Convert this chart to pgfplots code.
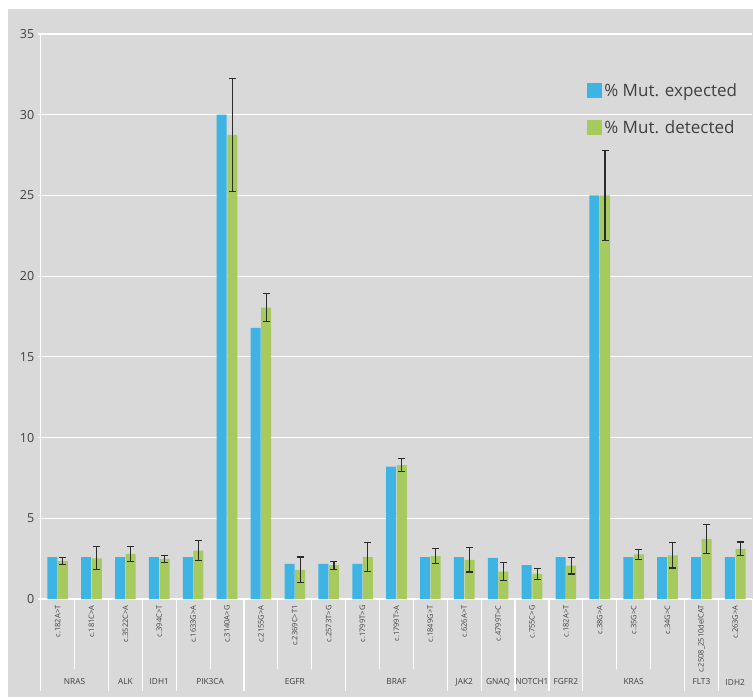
\documentclass[border=0pt]{standalone}
\usepackage{fontspec}
\setmainfont{Open Sans}
\usepackage{pgfplots}
\pgfplotsset{compat=1.18}
\usepackage{pgfplotstable}
\definecolor{bgc}{HTML}{D9D9D9}
\definecolor{cblue}{HTML}{3EB4E4}
\definecolor{cgreen}{HTML}{A6CA5E}
\definecolor{txt}{HTML}{404040}
\definecolor{errc}{HTML}{2B2B2B}

\pgfplotstableread{
x exp det err
0 2.6 2.35 0.2
1 2.6 2.52 0.71
2 2.6 2.8 0.45
3 2.6 2.48 0.2
4 2.6 3.0 0.63
5 30.0 28.75 3.5
6 16.8 18.05 0.87
7 2.17 1.8 0.8
8 2.17 2.1 0.25
9 2.17 2.6 0.9
10 8.2 8.3 0.42
11 2.6 2.65 0.47
12 2.6 2.42 0.75
13 2.55 1.7 0.58
14 2.1 1.55 0.32
15 2.6 2.07 0.52
16 25.0 25.0 2.8
17 2.6 2.77 0.3
18 2.6 2.7 0.78
19 2.6 3.73 0.9
20 2.6 3.1 0.43
}\data

\begin{document}
\begin{tikzpicture}
\fill[white] (0,0) rectangle (753pt,697pt);
\fill[bgc] (8pt,0) rectangle (753pt,688pt);
\useasboundingbox (0,0) rectangle (753pt,697pt);
\begin{axis}[
  at={(40.7pt,98pt)}, anchor=south west,
  scale only axis, width=711.5pt, height=565pt,
  xmin=-0.5, xmax=20.5, ymin=0, ymax=35,
  ybar=0.6pt, bar width=10pt,
  axis x line*=bottom, axis y line*=left,
  axis line style={white, line width=1.2pt, -},
  ytick={0,5,...,35},
  ymajorgrids, grid style={white, line width=1.2pt},
  xtick={0,...,20},
  xticklabels={c.182A>T, c.181C>A, c.3522C>A, c.394C>T, c.1633G>A, c.3140A>G, c.2155G>A, c.2369C>T1, c.2573T>G, c.1799T>G, c.1799T>A, c.1849G>T, c.626A>T, c.4799T>C, c.755C>G, c.182A>T, c.38G>A, c.35G>C, c.34G>C, c.2508\_2510delCAT, c.263G>A},
  x tick label style={rotate=90, anchor=east, font=\fontsize{7.5}{8}\selectfont, text=txt},
  y tick label style={font=\fontsize{12.5}{14}\selectfont, text=txt},
  /pgf/number format/assume math mode=true,
  x tick style={draw=none},
  y tick style={white, line width=1.2pt},
  major tick length=3pt, tick align=outside,
  clip=false,
  legend style={at={(0.768,0.917)}, anchor=north west, draw=none, fill=none,
    font=\fontsize{17}{20}\selectfont, text=txt, row sep=19pt, inner sep=0pt,
    nodes={inner sep=2pt}},
  legend cell align=left,
  legend image code/.code={\fill[#1] (0pt,-7.5pt) rectangle (15pt,7.5pt);},
]
\addplot[fill=cblue, draw=none] table[x=x, y=exp] {\data};
\addplot[fill=cgreen, draw=none,
  error bars/.cd, y dir=both, y explicit, error mark=|,
  error bar style={line width=1.1pt, color=errc},
  error mark options={line width=1.1pt, mark size=3.5pt, color=errc}]
  table[x=x, y=det, y error=err] {\data};
\legend{\% Mut. expected, \% Mut. detected}

\pgfplotsinvokeforeach{0.5,4.5,6.5,7.5,9.5,10.5,16.5,17.5}{
  \draw[white, line width=1.2pt] (axis cs:#1,0) -- ++(0pt,-70pt);
}
\pgfplotsinvokeforeach{-0.5,1.5,2.5,3.5,5.5,8.5,11.5,12.5,13.5,14.5,15.5,18.5,19.5,20.5}{
  \draw[white, line width=1.2pt] (axis cs:#1,0) -- ++(0pt,-92pt);
}
\tikzset{grp/.style={font=\fontsize{8.3}{10}\selectfont, text=txt, yshift=-83pt}}
\node[grp] at (axis cs:0.5,0) {NRAS};
\node[grp] at (axis cs:2,0) {ALK};
\node[grp] at (axis cs:3,0) {IDH1};
\node[grp] at (axis cs:4.5,0) {PIK3CA};
\node[grp] at (axis cs:7,0) {EGFR};
\node[grp] at (axis cs:10,0) {BRAF};
\node[grp] at (axis cs:12,0) {JAK2};
\node[grp] at (axis cs:13,0) {GNAQ};
\node[grp] at (axis cs:14,0) {NOTCH1};
\node[grp] at (axis cs:15,0) {FGFR2};
\node[grp] at (axis cs:17,0) {KRAS};
\node[grp] at (axis cs:19,0) {FLT3};
\node[grp] at (axis cs:20,0) {IDH2};
\end{axis}
\end{tikzpicture}
\end{document}
